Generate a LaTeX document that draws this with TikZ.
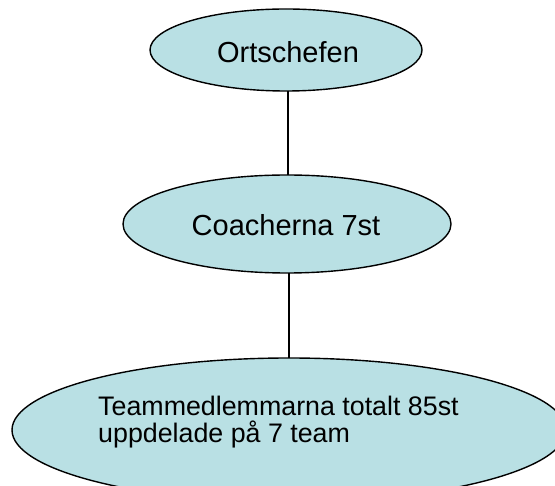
\documentclass[tikz,border=0pt]{standalone}
\usepackage{fontspec}
\setmainfont{Liberation Sans}
\usetikzlibrary{shapes.geometric}
\definecolor{ovalfill}{RGB}{185,224,228}
\begin{document}
\begin{tikzpicture}[x=1pt,y=-1pt,
  oval/.style={ellipse, draw=black, line width=1.4pt, fill=ovalfill, inner sep=0pt, outer sep=0pt},
  lbl/.style={inner sep=0pt, font=\fontsize{29}{29}\selectfont},
  lblsmall/.style={inner sep=0pt, font=\fontsize{26.8}{27}\selectfont},
  conn/.style={draw=black, line width=1.4pt}]
\useasboundingbox (0,0) rectangle (555,486);
\begin{scope}
\clip (0,0) rectangle (555,486);
\node[oval, minimum width=272pt, minimum height=82pt] (e1) at (286,50) {};
\node[oval, minimum width=328pt, minimum height=98pt] (e2) at (287,224) {};
\node[oval, minimum width=554pt, minimum height=144pt] (e3) at (289,430) {};
\node[lbl, anchor=base] (t1) at (288,63) {Ortschefen};
\node[lbl, anchor=base] (t2) at (286,236) {Coacherna 7st};
\node[lblsmall, anchor=base west] (t3a) at (98,416) {Teammedlemmarna totalt 85st};
\node[lblsmall, anchor=base west] (t3b) at (98,443) {uppdelade på 7 team};
\draw[conn] (e1.south -| 288,0) -- (e2.north -| 288,0);
\draw[conn] (e2.south -| 289,0) -- (e3.north -| 289,0);
\end{scope}
\end{tikzpicture}
\end{document}
